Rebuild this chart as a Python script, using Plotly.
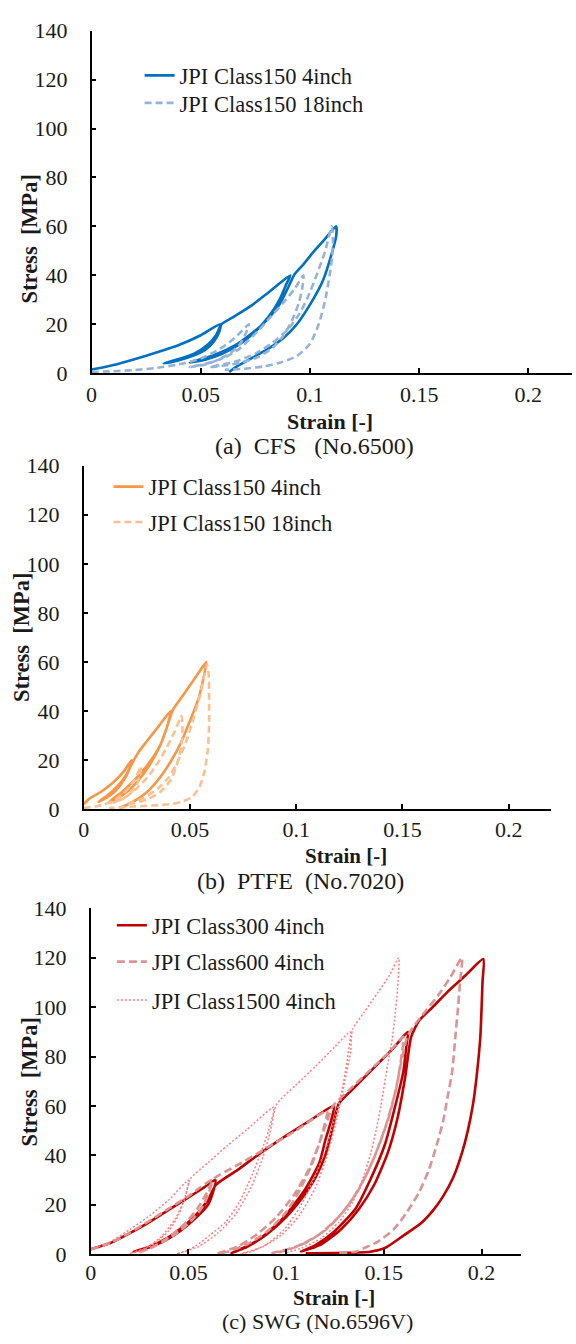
import plotly.graph_objects as go

# ---------------- data ----------------
tick_vals_x = [0, 0.05, 0.1, 0.15, 0.2]
tick_text_x = ["0", "0.05", "0.1", "0.15", "0.2"]
tick_vals_y = [0, 20, 40, 60, 80, 100, 120, 140]

# (a) CFS  No.6500
cfs_4in_strain = [0, 0.005, 0.01, 0.02, 0.03, 0.04, 0.05, 0.059,
                  0.0585, 0.056, 0.052, 0.046, 0.04, 0.033,
                  0.04, 0.047, 0.053, 0.057, 0.0595, 0.065, 0.073, 0.081, 0.091,
                  0.089, 0.086, 0.081, 0.075, 0.068, 0.06, 0.052, 0.045,
                  0.055, 0.065, 0.073, 0.08, 0.086, 0.09, 0.093, 0.097, 0.102, 0.107, 0.112,
                  0.112, 0.11, 0.106, 0.1, 0.094, 0.088, 0.08, 0.072, 0.066, 0.063]
cfs_4in_stress = [1.5, 2.3, 3.3, 5.8, 8.5, 11.5, 15.5, 20,
                  17, 13, 9.5, 7, 5.3, 4,
                  5.8, 8, 11.5, 15.5, 20, 23, 27.5, 33, 40,
                  36, 30, 23, 17, 12, 8, 5.5, 4.3,
                  7, 11, 16, 21.5, 28, 35, 40.5, 44.5, 50, 55, 60,
                  56, 49, 38, 28, 20, 14.5, 9.5, 5.5, 2.5, 0.5]
cfs_18in_strain = [0, 0.01, 0.02, 0.03, 0.04, 0.05, 0.057, 0.063, 0.068, 0.072,
                   0.0705, 0.068, 0.064, 0.058, 0.052, 0.045,
                   0.053, 0.061, 0.067, 0.072, 0.077, 0.082, 0.088, 0.093, 0.097,
                   0.0965, 0.095, 0.092, 0.088, 0.083, 0.076, 0.068, 0.06, 0.054,
                   0.065, 0.075, 0.083, 0.09, 0.095, 0.099, 0.103, 0.107, 0.11,
                   0.1105, 0.1102, 0.109, 0.107, 0.104, 0.1, 0.094, 0.087, 0.079, 0.07, 0.061]
cfs_18in_stress = [0.5, 0.8, 1.3, 2.2, 3.6, 6, 9, 12.5, 16.5, 20,
                   16, 12, 8.5, 5.5, 3.5, 2.5,
                   4, 6.5, 9.5, 13.5, 18, 23, 29, 34.5, 40,
                   35, 29, 22, 15.5, 10.5, 6.5, 4.2, 3, 2.5,
                   4.5, 8, 12.5, 18, 24, 31, 40, 50, 60,
                   55, 48, 40, 30, 20, 12, 7, 4.5, 2.8, 1.8, 1.4]

# (b) PTFE  No.7020
ptfe_4in_strain = [0, 0.003, 0.008, 0.014, 0.019, 0.0225,
                   0.0215, 0.019, 0.015, 0.011, 0.007,
                   0.011, 0.016, 0.02, 0.023, 0.026, 0.03, 0.035, 0.041,
                   0.039, 0.036, 0.031, 0.026, 0.021, 0.016, 0.012,
                   0.018, 0.024, 0.03, 0.036, 0.039, 0.042, 0.046, 0.05, 0.054, 0.0577,
                   0.0565, 0.054, 0.05, 0.046, 0.041, 0.036, 0.031, 0.026, 0.021, 0.017]
ptfe_4in_stress = [2, 4.5, 7, 11, 15.5, 20,
                   16.5, 12, 7.5, 4.8, 3,
                   5.5, 9.5, 14, 19, 23.5, 28, 33.5, 40,
                   33, 26, 18, 12, 7.5, 4.5, 3,
                   7, 12, 18, 26, 33, 40.5, 45.5, 50.5, 55.5, 60,
                   54, 45, 36, 27.5, 19.5, 13, 8, 4.5, 2, 0.5]
ptfe_18in_strain = [0, 0.005, 0.01, 0.015, 0.02, 0.024, 0.027,
                    0.0265, 0.025, 0.022, 0.018, 0.013,
                    0.019, 0.025, 0.03, 0.035, 0.039, 0.043, 0.046,
                    0.0465, 0.046, 0.044, 0.041, 0.036, 0.03, 0.024, 0.02,
                    0.028, 0.035, 0.04, 0.044, 0.048, 0.051, 0.054, 0.056, 0.058,
                    0.0588, 0.059, 0.059, 0.0585, 0.057, 0.0545, 0.051, 0.046, 0.04, 0.032, 0.022, 0.012]
ptfe_18in_stress = [0.5, 1, 2, 4, 7.5, 12, 17.5,
                    14, 10, 6.5, 4, 2.5,
                    4.5, 8.5, 13, 19, 25, 32, 38,
                    33, 26, 18.5, 12, 7, 4, 2.5, 2,
                    4.5, 8.5, 13, 19, 27, 35, 44, 51, 59,
                    55, 45, 35, 25, 16, 9, 5, 3, 2, 1.5, 1, 0.5]

# (c) SWG  No.6596V
swg_300_strain = [0, 0.01, 0.02, 0.03, 0.04, 0.05, 0.058, 0.0638,
                  0.0625, 0.06, 0.0535, 0.046, 0.038, 0.029, 0.022,
                  0.03, 0.039, 0.047, 0.054, 0.06, 0.064, 0.075, 0.087, 0.1, 0.112, 0.1244,
                  0.123, 0.12, 0.117, 0.1095, 0.0983, 0.087, 0.078, 0.072,
                  0.08, 0.09, 0.1, 0.108, 0.115, 0.12, 0.124, 0.127, 0.135, 0.145, 0.155, 0.1623,
                  0.1615, 0.16, 0.156, 0.1506, 0.143, 0.1356, 0.1244, 0.115, 0.1077,
                  0.118, 0.128, 0.137, 0.145, 0.152, 0.157, 0.161, 0.164, 0.168, 0.175, 0.183, 0.192, 0.2009,
                  0.2005, 0.1994, 0.1975, 0.1957, 0.193, 0.19, 0.1855, 0.1804, 0.175, 0.169, 0.16, 0.1506, 0.143, 0.13, 0.11]
swg_300_stress = [2, 4.5, 8.5, 13, 18, 23, 27, 30,
                  25, 20, 14.5, 9.5, 5.5, 2.5, 1,
                  3, 6.5, 11, 16, 22, 28, 34, 41, 48, 54, 60,
                  54, 46, 37, 26, 14.5, 6.5, 2.5, 0.5,
                  3, 8, 15, 22.5, 31, 40, 52, 61, 67.5, 75.5, 83.5, 90,
                  84, 74, 60.5, 44.5, 30, 18.5, 9, 3.7, 1,
                  4, 10, 18, 28, 41, 55, 72, 88, 94.5, 100, 106.5, 113, 119.5,
                  110, 88, 72, 61, 50, 41, 31, 23.5, 17.5, 12.5, 7.5, 2.5, 1, 0.5, 0.3]
swg_600_strain = [0, 0.01, 0.02, 0.03, 0.04, 0.05, 0.056, 0.062,
                  0.0605, 0.0575, 0.052, 0.045, 0.037, 0.03, 0.024,
                  0.032, 0.041, 0.049, 0.055, 0.0595, 0.063, 0.075, 0.09, 0.105, 0.121,
                  0.1195, 0.117, 0.113, 0.107, 0.1, 0.09, 0.08, 0.07, 0.065,
                  0.075, 0.085, 0.095, 0.104, 0.112, 0.117, 0.121, 0.124, 0.133, 0.145, 0.153, 0.16,
                  0.159, 0.157, 0.1535, 0.148, 0.141, 0.132, 0.122, 0.111, 0.1, 0.093,
                  0.105, 0.117, 0.128, 0.137, 0.145, 0.151, 0.156, 0.159, 0.162, 0.166, 0.172, 0.178, 0.184, 0.19,
                  0.189, 0.188, 0.1865, 0.185, 0.1825, 0.1804, 0.177, 0.173, 0.168, 0.1618, 0.155, 0.1468, 0.14, 0.1356, 0.125]
swg_600_stress = [2, 4.5, 8.7, 13.5, 18.5, 23.5, 27, 30,
                  25, 19.5, 14, 9, 5, 2.2, 0.5,
                  3, 7.5, 13, 19, 25, 30.5, 36, 43, 50, 58,
                  52, 45, 36, 26, 17, 9, 4, 1, 0.3,
                  3, 8, 15, 24, 35, 45, 54, 60, 67, 76, 82, 88,
                  80, 70, 58, 45, 32, 20, 11, 5, 1.5, 0.5,
                  3, 8, 16, 26, 39, 52, 66, 78, 88, 93, 99, 105, 112, 120,
                  110, 100, 87, 74, 63, 54, 44, 34, 25, 17, 10, 5, 2.5, 1, 0.3]
swg_1500_strain = [0, 0.01, 0.02, 0.03, 0.04, 0.05,
                   0.0485, 0.045, 0.04, 0.033, 0.026, 0.02,
                   0.028, 0.036, 0.043, 0.048, 0.051, 0.06, 0.07, 0.08, 0.0937,
                   0.091, 0.087, 0.082, 0.076, 0.069, 0.061, 0.054, 0.048, 0.044,
                   0.055, 0.065, 0.074, 0.082, 0.088, 0.092, 0.095, 0.105, 0.115, 0.125, 0.1328,
                   0.1315, 0.129, 0.125, 0.12, 0.114, 0.107, 0.099, 0.09, 0.082, 0.077,
                   0.088, 0.098, 0.107, 0.115, 0.121, 0.126, 0.13, 0.133, 0.134, 0.14, 0.147, 0.153, 0.1576,
                   0.157, 0.1555, 0.1543, 0.152, 0.1485, 0.146, 0.143, 0.139, 0.134, 0.127, 0.118, 0.108, 0.1]
swg_1500_stress = [2, 5, 10, 15.5, 22, 30,
                   24, 16, 9.5, 4.5, 1.5, 0.3,
                   2.5, 7, 14, 22, 30.5, 37, 44, 50.5, 59.5,
                   50, 41, 31, 21, 13, 7.7, 3.5, 1, 0.2,
                   3, 8.5, 16, 27, 39, 50, 60.5, 68.5, 76, 84, 90,
                   80, 68, 55, 42, 30, 19, 10, 4, 1, 0.2,
                   3, 8, 16, 27, 40, 55, 70, 82, 91, 98, 106, 113, 120,
                   107, 95, 87, 77, 60, 50, 40, 30, 21, 13, 6.5, 2.5, 0.5]

# ---------------- figure ----------------
W, H = 576, 1344
FONT = "Liberation Serif, Times New Roman, serif"
TXT = "#1a1a1a"


def px_x(p):
    return p / W


def px_y(p):
    return 1 - p / H


panels = [
    dict(x0=86.5, x1=572, top=19, bot=368, tls=1),
    dict(x0=78.5, x1=551, top=462.3, bot=812.3, tls=0),
    dict(x0=85.7, x1=520, top=913.3, bot=1265.7, tls=-2),
]

fig = go.Figure()
leg_font = dict(family=FONT, size=22.5, color=TXT)
legend_defs = {}


def add(x, y, name, color, dash, width, idx, legend, lx, ly):
    xa = "x" if idx == 1 else f"x{idx}"
    ya = "y" if idx == 1 else f"y{idx}"
    fig.add_trace(go.Scatter(
        x=x, y=y, mode="lines", name=name, xaxis=xa, yaxis=ya,
        line=dict(color=color, dash=dash, width=width, shape="spline", smoothing=0.6),
        legend=legend,
    ))
    legend_defs[legend] = dict(x=px_x(lx), y=px_y(ly), xanchor="left", yanchor="middle",
                               font=leg_font, bgcolor="rgba(0,0,0,0)")


add(cfs_4in_strain, cfs_4in_stress, "JPI Class150 4inch", "#0070C0", "solid", 2.6, 1, "legend", 135, 65)
add(cfs_18in_strain, cfs_18in_stress, "JPI Class150 18inch", "#95B3D7", "7px,4px", 2.6, 1, "legend2", 135, 93)
add(ptfe_4in_strain, ptfe_4in_stress, "JPI Class150 4inch", "#F79646", "solid", 2.6, 2, "legend3", 103.5, 484)
add(ptfe_18in_strain, ptfe_18in_stress, "JPI Class150 18inch", "#FAC090", "7px,4px", 2.6, 2, "legend4", 103.5, 520)
add(swg_300_strain, swg_300_stress, "JPI Class300 4inch", "#C00000", "solid", 2.6, 3, "legend5", 107, 931)
add(swg_600_strain, swg_600_stress, "JPI Class600 4inch", "#D99594", "8px,4px", 2.6, 3, "legend6", 107, 968)
add(swg_1500_strain, swg_1500_stress, "JPI Class1500 4inch", "#FF7C80", "2px,2px", 1.5, 3, "legend7", 107, 1007)

axis_common = dict(
    showline=True, linecolor="black", linewidth=1.6, ticks="inside", ticklen=5,
    tickwidth=1.5, tickcolor="black", showgrid=False, zeroline=False,
    tickfont=dict(family=FONT, size=22, color=TXT),
)

layout = dict(
    width=W, height=H, margin=dict(l=0, r=0, t=0, b=0),
    paper_bgcolor="white", plot_bgcolor="white", showlegend=True,
    font=dict(family=FONT, color=TXT),
)
for i, p in enumerate(panels, start=1):
    sfx = "" if i == 1 else str(i)
    layout["xaxis" + sfx] = dict(
        axis_common, domain=[px_x(p["x0"]), px_x(p["x1"])], range=[0, 0.22],
        tickvals=tick_vals_x, ticktext=tick_text_x, anchor="y" + sfx,
        ticklabelstandoff=p["tls"],
    )
    layout["yaxis" + sfx] = dict(
        axis_common, domain=[px_y(p["bot"]), px_y(p["top"])], range=[0, 140],
        tickvals=tick_vals_y, anchor="x" + sfx, ticklabelstandoff=18,
    )
layout.update(legend_defs)
fig.update_layout(**layout)

ann = []
ytitle = "<b>Stress\u00a0\u00a0[MPa]</b>"
for (xp, yp) in [(24, 231), (15, 637), (24, 1090)]:
    ann.append(dict(text=ytitle, x=px_x(xp), y=px_y(yp), xref="paper", yref="paper",
                    showarrow=False, textangle=-90, font=dict(family=FONT, size=22.5, color=TXT),
                    xanchor="center", yanchor="middle"))
for (xp, yp), sz in zip([(327, 417), (344, 860), (331, 1310)], [22, 21, 21]):
    ann.append(dict(text="<b>Strain [-]</b>", x=px_x(xp), y=px_y(yp), xref="paper", yref="paper",
                    showarrow=False, font=dict(family=FONT, size=sz, color=TXT),
                    xanchor="center", yanchor="middle"))
captions = ["(a)\u00a0\u00a0CFS\u00a0\u00a0\u00a0(No.6500)",
            "(b)\u00a0\u00a0PTFE\u00a0\u00a0(No.7020)",
            "(c) SWG (No.6596V)"]
for text, (xp, yp), sz in zip(captions, [(312, 442), (298, 885), (315, 1334)], [24, 24, 22]):
    ann.append(dict(text=text, x=px_x(xp), y=px_y(yp), xref="paper", yref="paper",
                    showarrow=False, font=dict(family=FONT, size=sz, color=TXT),
                    xanchor="center", yanchor="middle"))
fig.update_layout(annotations=ann)

fig.write_html("out.html")
